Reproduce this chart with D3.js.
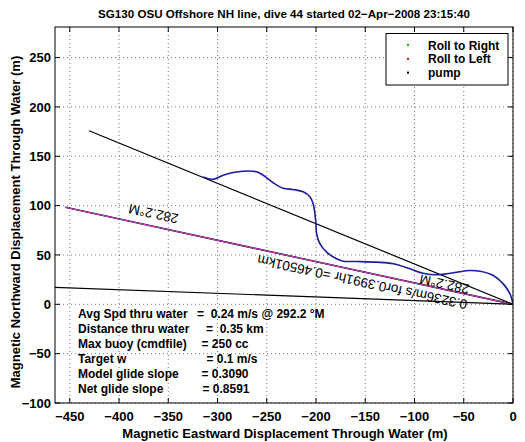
<!DOCTYPE html>
<html><head><meta charset="utf-8">
<script src="https://cdn.jsdelivr.net/npm/d3@7"></script>
<style>
body{margin:0;background:#fff;}
text{font-family:"Liberation Sans",Arial,Helvetica,sans-serif;font-weight:bold;}
</style></head>
<body><div id="chart"></div>
<script>
// ---- data ----
const titleText = "SG130 OSU Offshore NH line, dive 44 started 02\u2212Apr\u22122008 23:15:40";
const xLabel = "Magnetic Eastward Displacement Through Water (m)";
const yLabel = "Magnetic Northward Displacement Through Water (m)";
const xTicks = [-450,-400,-350,-300,-250,-200,-150,-100,-50,0];
const yTicks = [-100,-50,0,50,100,150,200,250];
const xDomain = [-465, 0];
const yDomain = [-100, 281];

// glider track through water (east, north)
const trackX = [0,-3.0,-9.9,-20.0,-33.5,-43.7,-57.2,-67.3,-77.5,-91.4,-104.6,-121.6,-138.5,-158.8,-172.4,-179.1,-189.2,-196.1,-199.4,-200.1,-201.1,-202.9,-206.2,-213.0,-223.2,-233.3,-243.5,-253.6,-260.4,-274.0,-284.1,-294.3,-304.4,-314.6];
const trackY = [0,10.6,20.7,29.2,33.5,34.2,32.5,30.9,29.9,31.5,36.0,41.1,42.7,43.4,43.7,46.1,52.8,61.4,71.5,81.7,91.9,102.0,108.9,114.0,116.3,117.6,123.2,130.8,134.3,134.9,133.5,130.8,126.7,129.1];

// straight reference lines: [east, north] end points, starting at origin
const avgLine = [[0,0],[-430.4,175.8]];       // 292.2 deg avg through water
const headingLine = [[0,0],[-454.5,98.3]];    // 282.2 deg
const lowLine = [[0,0],[-480,17.8]];

const legendLabels = ["Roll to Right","Roll to Left","pump"];
const legendColors = ["#00c000","#d00000","#000000"];

const statLabels = ["Avg Spd thru water","Distance thru water","Max buoy (cmdfile)","Target w","Model glide slope","Net glide slope"];
const statValues = ["=  0.24 m/s @ 292.2 \u00B0M","=  0.35 km","= 250 cc","= 0.1 m/s","= 0.3090","= 0.8591"];
const statValueX = [197,206,201.5,206.5,201.5,202.5];

const lineLabels = ["282.2\u00B0M","0.3236m/s for0.3991hr =0.46501km","282.2\u00B0M"];
const lineLabelPos = [[-339.0,91.0],[-45.7,4.0],[-43.6,19.6]];

// ---- drawing ----
const W=525,H=442;
const L=55,R=513,T=27,B=403;
const svg=d3.select("#chart").append("svg").attr("width",W).attr("height",H);
const x=d3.scaleLinear().domain(xDomain).range([L,R]);
const y=d3.scaleLinear().domain(yDomain).range([B,T]);

svg.append("defs").append("clipPath").attr("id","clip")
  .append("rect").attr("x",L).attr("y",T).attr("width",R-L).attr("height",B-T);

// grid
const grid=svg.append("g").attr("stroke","#555").attr("stroke-width",0.8).attr("stroke-dasharray","1,3");
grid.selectAll(".gx").data(xTicks).enter().append("line")
  .attr("x1",d=>x(d)).attr("x2",d=>x(d)).attr("y1",T).attr("y2",B);
grid.selectAll(".gy").data(yTicks).enter().append("line")
  .attr("x1",L).attr("x2",R).attr("y1",d=>y(d)).attr("y2",d=>y(d));

const plot=svg.append("g").attr("clip-path","url(#clip)");
const ln=d3.line().x(d=>x(d[0])).y(d=>y(d[1]));

plot.append("path").attr("d",ln(lowLine)).attr("fill","none").attr("stroke","#000").attr("stroke-width",1.2);
plot.append("path").attr("d",ln(headingLine)).attr("fill","none").attr("stroke","#000").attr("stroke-width",1.6);
plot.append("path").attr("d",ln(headingLine)).attr("fill","none").attr("stroke","#e040e0").attr("stroke-width",1);
plot.append("path").attr("d",ln(avgLine)).attr("fill","none").attr("stroke","#000").attr("stroke-width",1.2);

const track=trackX.map((v,i)=>[v,trackY[i]]);
plot.append("path").attr("d",d3.line().curve(d3.curveCatmullRom).x(d=>x(d[0])).y(d=>y(d[1]))(track))
  .attr("fill","none").attr("stroke","#1c1c9c").attr("stroke-width",1.6);
plot.append("circle").attr("cx",x(0)).attr("cy",y(0)).attr("r",1.2).attr("fill","#00c000");

// rotated line labels
const hp0=[x(headingLine[0][0]),y(headingLine[0][1])],hp1=[x(headingLine[1][0]),y(headingLine[1][1])];
const ang=Math.atan2(hp0[1]-hp1[1],hp0[0]-hp1[0])*180/Math.PI+180;
lineLabels.forEach((t,i)=>{
  svg.append("text").attr("transform",`translate(${x(lineLabelPos[i][0])},${y(lineLabelPos[i][1])}) rotate(${ang})`)
    .attr("font-size",13.5).style("font-weight","normal").attr("fill","#000").text(t);
});

// stats text
statLabels.forEach((t,i)=>{
  const by=318+i*15.05;
  svg.append("text").attr("x",78).attr("y",by).attr("font-size",12).text(t);
  svg.append("text").attr("x",statValueX[i]).attr("y",by).attr("font-size",12)
    .style("white-space","pre").text(statValues[i]);
});

// frame + ticks
svg.append("rect").attr("x",L).attr("y",T).attr("width",R-L).attr("height",B-T)
  .attr("fill","none").attr("stroke","#000").attr("stroke-width",1);
const tk=svg.append("g").attr("stroke","#000").attr("stroke-width",1);
xTicks.forEach(d=>{
  tk.append("line").attr("x1",x(d)).attr("x2",x(d)).attr("y1",B).attr("y2",B-5);
  tk.append("line").attr("x1",x(d)).attr("x2",x(d)).attr("y1",T).attr("y2",T+5);
});
yTicks.forEach(d=>{
  tk.append("line").attr("x1",L).attr("x2",L+5).attr("y1",y(d)).attr("y2",y(d));
  tk.append("line").attr("x1",R).attr("x2",R-5).attr("y1",y(d)).attr("y2",y(d));
});
const fmt=d=>d<0?"\u2212"+Math.abs(d):String(d);
svg.selectAll(".xt").data(xTicks).enter().append("text")
  .attr("x",d=>x(d)).attr("y",421).attr("text-anchor","middle").attr("font-size",13).text(fmt);
svg.selectAll(".yt").data(yTicks).enter().append("text")
  .attr("x",51).attr("y",d=>y(d)+4.7).attr("text-anchor","end").attr("font-size",13).text(fmt);

svg.append("text").attr("x",285).attr("y",438).attr("text-anchor","middle").attr("font-size",13).text(xLabel);
svg.append("text").attr("transform",`translate(20,222) rotate(-90)`).attr("text-anchor","middle").attr("font-size",13).text(yLabel);
svg.append("text").attr("x",284).attr("y",18).attr("text-anchor","middle").attr("font-size",11.6).text(titleText);

// legend
const lg=svg.append("g");
lg.append("rect").attr("x",386).attr("y",33.5).attr("width",122).attr("height",51.5).attr("fill","#fff").attr("stroke","#000").attr("stroke-width",1);
legendLabels.forEach((t,i)=>{
  const cy=45+i*13.8;
  lg.append("rect").attr("x",407).attr("y",cy-1).attr("width",2).attr("height",2).attr("fill",legendColors[i]);
  lg.append("text").attr("x",428).attr("y",cy+4.5).attr("font-size",12).text(t);
});
</script></body></html>
